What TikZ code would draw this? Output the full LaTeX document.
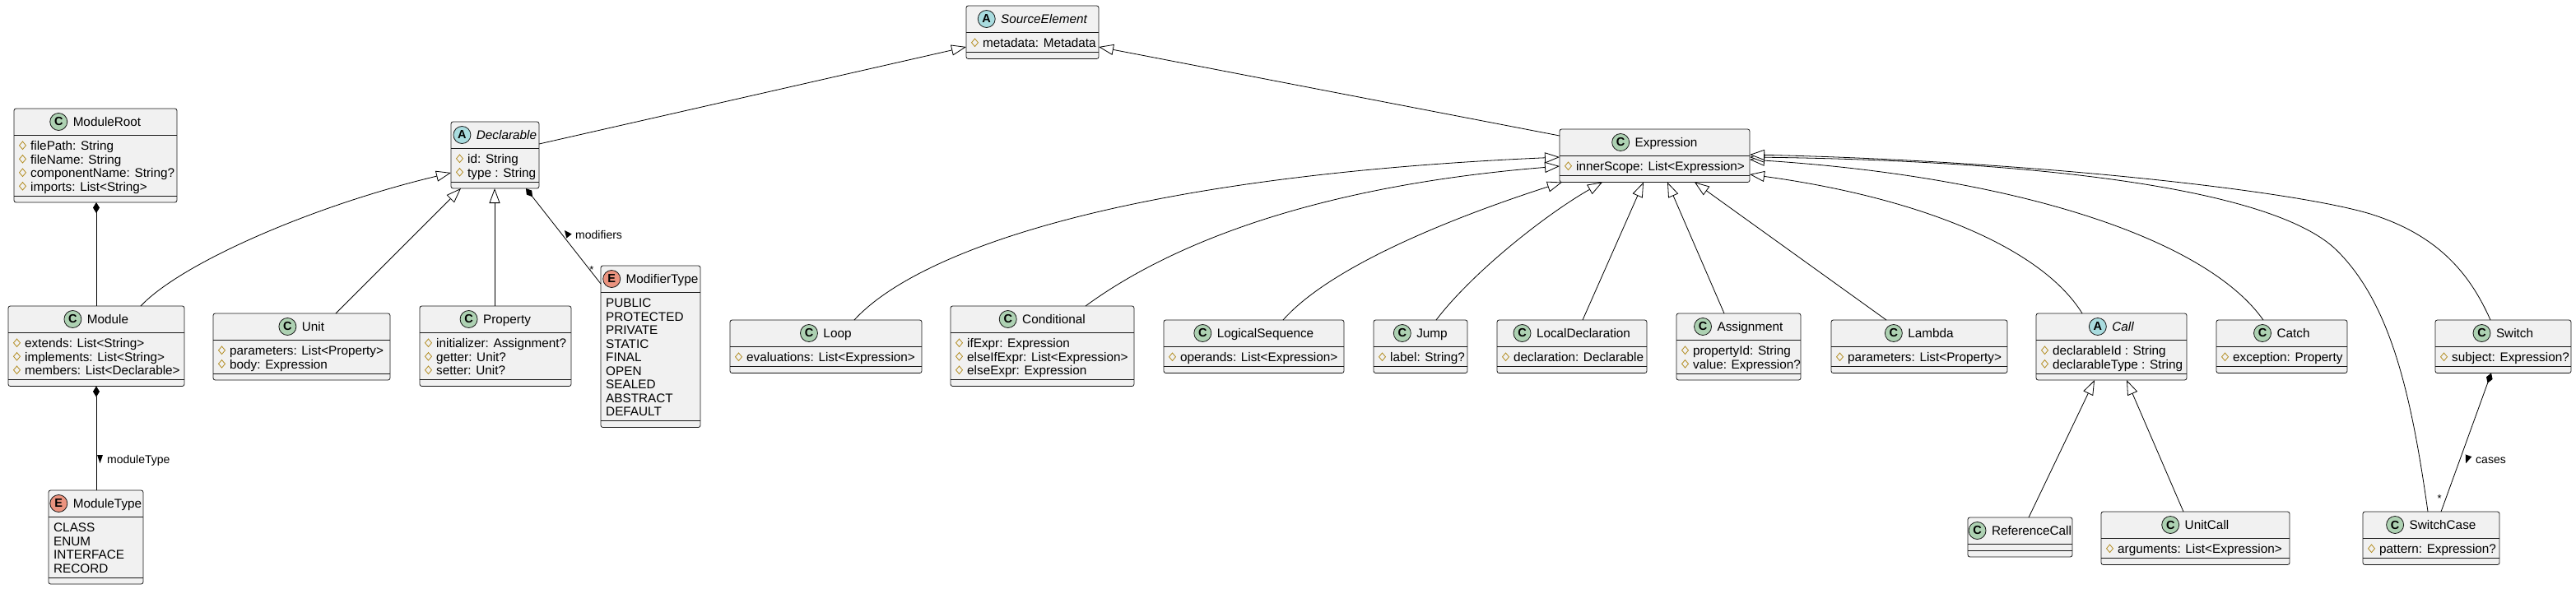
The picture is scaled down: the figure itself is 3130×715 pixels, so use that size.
\documentclass[tikz,border=0pt]{standalone}
\usepackage{fontspec}
\setmainfont{Liberation Sans}
\usetikzlibrary{arrows.meta,calc}
\definecolor{boxfill}{HTML}{F1F1F1}
\definecolor{boxline}{HTML}{181818}
\definecolor{icC}{HTML}{ADD1B2}
\definecolor{icA}{HTML}{A9DCDF}
\definecolor{icE}{HTML}{EB937F}
\definecolor{prot}{HTML}{B38D22}
\newcommand\ttlfont{\fontsize{15.3}{18}\selectfont}
\newcommand\atrfont{\fontsize{15.3}{18}\selectfont}
\tikzset{
  umlbox/.style={draw=boxline, fill=boxfill, line width=0.8pt, rounded corners=2.5pt, inner sep=0pt, outer sep=0pt},
  umldiv/.style={draw=boxline, line width=0.8pt},
  icon/.style={circle, draw=boxline, line width=0.8pt, minimum size=21pt, inner sep=0pt, font=\fontsize{14.5}{15}\selectfont\bfseries},
  iconC/.style={icon, fill=icC},
  iconA/.style={icon, fill=icA},
  iconE/.style={icon, fill=icE},
  ttl/.style={inner sep=0pt, outer sep=0pt, font=\ttlfont},
  atr/.style={inner sep=0pt, font=\atrfont},
  protic/.style={draw=prot, line width=0.8pt},
  ext/.style={draw=black, line width=0.8pt, -{Triangle[length=18pt,width=13pt,fill=white]}},
  comp/.style={draw=black, line width=0.8pt, {Diamond[length=13pt,width=8pt]}-},
  lbl/.style={inner sep=0pt, font=\fontsize{14}{16}\selectfont},
  mult/.style={inner sep=0pt, font=\fontsize{13}{14}\selectfont},
}
% #1 name #2 kind C/A/E #3 title #4 left #5 top #6 right #7 rows #8 row texts
\newcommand\umlclass[8]{%
  \pgfmathsetmacro\ucW{#6-#4}%
  \pgfmathsetmacro\ucH{48+#7*16.5}%
  \pgfmathsetmacro\ucD{40+#7*16.5}%
  \node[umlbox, minimum width=\ucW pt, minimum height=\ucH pt, anchor=north west] (#1) at (#4,#5) {};
  \draw[umldiv] ($(#1.north west)+(0,32)$) -- ($(#1.north east)+(0,32)$);
  \draw[umldiv] ($(#1.north west)+(0,\ucD)$) -- ($(#1.north east)+(0,\ucD)$);
  \coordinate (#1-hy) at ($(#1.north)+(0,16)$);
  \node[ttl, anchor=base] (#1-title) at ($(#1.north)+(14,21.5)$) {#3};
  \node[icon#2] (#1-icon) at ($(#1-title.west |- #1-hy)+(-17.5,0)$) {#2};
  \ifnum#7>0
  \foreach \ucT [count=\ucI] in {#8}{%
    \pgfmathsetmacro\ucY{50.5+16.5*(\ucI-1)}%
    \if#2E
      \node[atr, anchor=base west] (#1-r\ucI) at ($(#1.north west)+(6,\ucY)$) {\ucT};
    \else
      \draw[protic] ($(#1.north west)+(10.5,\ucY-5.7)$) ++(0,-4.75) -- ++(4,4.75) -- ++(-4,4.75) -- ++(-4,-4.75) -- cycle;
      \node[atr, anchor=base west] (#1-r\ucI) at ($(#1.north west)+(20,\ucY)$) {\ucT};
    \fi
  }%
  \fi
}
\begin{document}
\begin{tikzpicture}[x=1pt,y=-1pt]
\fill[white] (0,0) rectangle (3130,715);
\useasboundingbox (0,0) rectangle (3130,715);

\umlclass{SourceElement}{A}{\itshape SourceElement}{1174}{7}{1335}{1}{metadata: Metadata}
\umlclass{ModuleRoot}{C}{ModuleRoot}{17}{132}{215}{4}{filePath: String,fileName: String,componentName: String?,imports: List<String>}
\umlclass{Declarable}{A}{\itshape Declarable}{548}{148}{655}{2}{id: String,type : String}
\umlclass{Expression}{C}{Expression}{1895}{157}{2126}{1}{innerScope: List<Expression>}
\umlclass{Module}{C}{Module}{10}{372}{224}{3}{extends: List<String>,implements: List<String>,members: List<Declarable>}
\umlclass{Unit}{C}{Unit}{259}{381}{474}{2}{parameters: List<Property>,body: Expression}
\umlclass{Property}{C}{Property}{510}{372}{694}{3}{initializer: Assignment?,getter: Unit?,setter: Unit?}
\umlclass{ModifierType}{E}{ModifierType}{730}{323}{851}{9}{PUBLIC,PROTECTED,PRIVATE,STATIC,FINAL,OPEN,SEALED,ABSTRACT,DEFAULT}
\umlclass{ModuleType}{E}{ModuleType}{59}{596}{174}{4}{CLASS,ENUM,INTERFACE,RECORD}
\umlclass{Loop}{C}{Loop}{887}{389}{1120}{1}{evaluations: List<Expression>}
\umlclass{Conditional}{C}{Conditional}{1155}{372}{1378}{3}{ifExpr: Expression,elseIfExpr: List<Expression>,elseExpr: Expression}
\umlclass{LogicalSequence}{C}{LogicalSequence}{1414}{389}{1633}{1}{operands: List<Expression>}
\umlclass{Jump}{C}{Jump}{1669}{389}{1783}{1}{label: String?}
\umlclass{LocalDeclaration}{C}{LocalDeclaration}{1819}{389}{2001}{1}{declaration: Declarable}
\umlclass{Assignment}{C}{Assignment}{2037}{381}{2188}{2}{propertyId: String,value: Expression?}
\umlclass{Lambda}{C}{Lambda}{2225}{389}{2439}{1}{parameters: List<Property>}
\umlclass{Call}{A}{\itshape Call}{2474}{381}{2657}{2}{declarableId : String,declarableType : String}
\umlclass{Catch}{C}{Catch}{2693}{389}{2852}{1}{exception: Property}
\umlclass{Switch}{C}{Switch}{2959}{389}{3124}{1}{subject: Expression?}
\umlclass{ReferenceCall}{C}{ReferenceCall}{2391}{629}{2518}{0}{}
\umlclass{UnitCall}{C}{UnitCall}{2553}{622}{2782}{1}{arguments: List<Expression>}
\umlclass{SwitchCase}{C}{SwitchCase}{2871}{622}{3037}{1}{pattern: Expression?}

% inheritance
\draw[ext] ($(Declarable.north east)+(0,27)$) -- ($(SourceElement.north west)+(0,50)$);
\draw[ext] ($(Expression.north west)+(0,8)$) -- ($(SourceElement.north east)+(0,50)$);
\draw[ext] ($(Module.north west)+(161,0)$) .. controls +(49,-52) and +(-168,40) .. ($(Declarable.north west)+(0,62)$);
\draw[ext] ($(Unit.north west)+(149,0)$) -- ($(Declarable.south west)+(12,0)$);
\draw[ext] ($(Property.north west)+(91,0)$) -- ($(Declarable.south west)+(53,0)$);

\draw[ext] ($(Loop.north west)+(151,0)$) .. controls +(72,-79) and +(-545,24) .. ($(Expression.north west)+(0,34)$);
\draw[ext] ($(Conditional.north west)+(164,0)$) .. controls +(71,-52) and +(-345,28) .. ($(Expression.north west)+(0,45)$);
\draw[ext] ($(LogicalSequence.north west)+(145,0)$) .. controls +(61,-69) and +(-118,38) .. ($(Expression.south west)+(3,0)$);
\draw[ext] ($(Jump.north west)+(76,0)$) .. controls +(45,-59) and +(-67,38) .. ($(Expression.south west)+(52,0)$);
\draw[ext] ($(LocalDeclaration.north west)+(104,0)$) -- ($(Expression.south west)+(102,0)$);
\draw[ext] ($(Assignment.north west)+(58,0)$) -- ($(Expression.south west)+(131,0)$);
\draw[ext] ($(Lambda.north west)+(67,0)$) -- ($(Expression.south west)+(164,0)$);
\draw[ext] ($(Call.north west)+(56,0)$) .. controls +(-50,-81) and +(204,28) .. ($(Expression.north east)+(0,55)$);
\draw[ext] ($(Catch.north west)+(57,0)$) .. controls +(-70,-99) and +(324,21) .. ($(Expression.north east)+(0,37)$);
\draw[ext] ($(SwitchCase.north west)+(79,0)$) .. controls +(-20,-142) and +(65,65) .. ++(-110,-317)
   .. controls +(-80,-80) and +(324,4) .. ($(Expression.north east)+(0,34)$);
\draw[ext] ($(Switch.north west)+(67,0)$) .. controls +(-26,-59) and +(80,25) .. ++(-146,-129)
   .. controls +(-100,-30) and +(324,7) .. ($(Expression.north east)+(0,31)$);
\draw[ext] ($(ReferenceCall.north west)+(74,0)$) -- ($(Call.south west)+(71,0)$);
\draw[ext] ($(UnitCall.north west)+(100,0)$) -- ($(Call.south west)+(110,0)$);

% composition
\draw[comp] ($(ModuleRoot.south west)+(100,0)$) -- ($(Module.north west)+(107,0)$);
\draw[comp] ($(Module.south west)+(107,0)$) -- ($(ModuleType.north west)+(58,0)$);
\draw[comp] ($(Declarable.south west)+(91,0)$) -- ($(ModifierType.north west)+(0,22)$);
\draw[comp] ($(Switch.south west)+(68,0)$) -- ($(SwitchCase.north west)+(95,0)$);

% labels
\fill (118,553) -- (125,553) -- (121.5,563) -- cycle;
\node[lbl, anchor=base west] (lbl-moduleType) at (130,563) {moduleType};
\fill (686,280) -- (694.7,284.5) -- (688.3,289.5) -- cycle;
\node[lbl, anchor=base west] (lbl-modifiers) at (699,290) {modifiers};
\node[mult] (mult-modifiers) at (719,328) {*};
\fill (2996.1,563.2) -- (3003.3,555.2) -- (2995.7,552.4) -- cycle;
\node[lbl, anchor=base west] (lbl-cases) at (3008,563) {cases};
\node[mult] (mult-cases) at (2964,606) {*};
\end{tikzpicture}
\end{document}
